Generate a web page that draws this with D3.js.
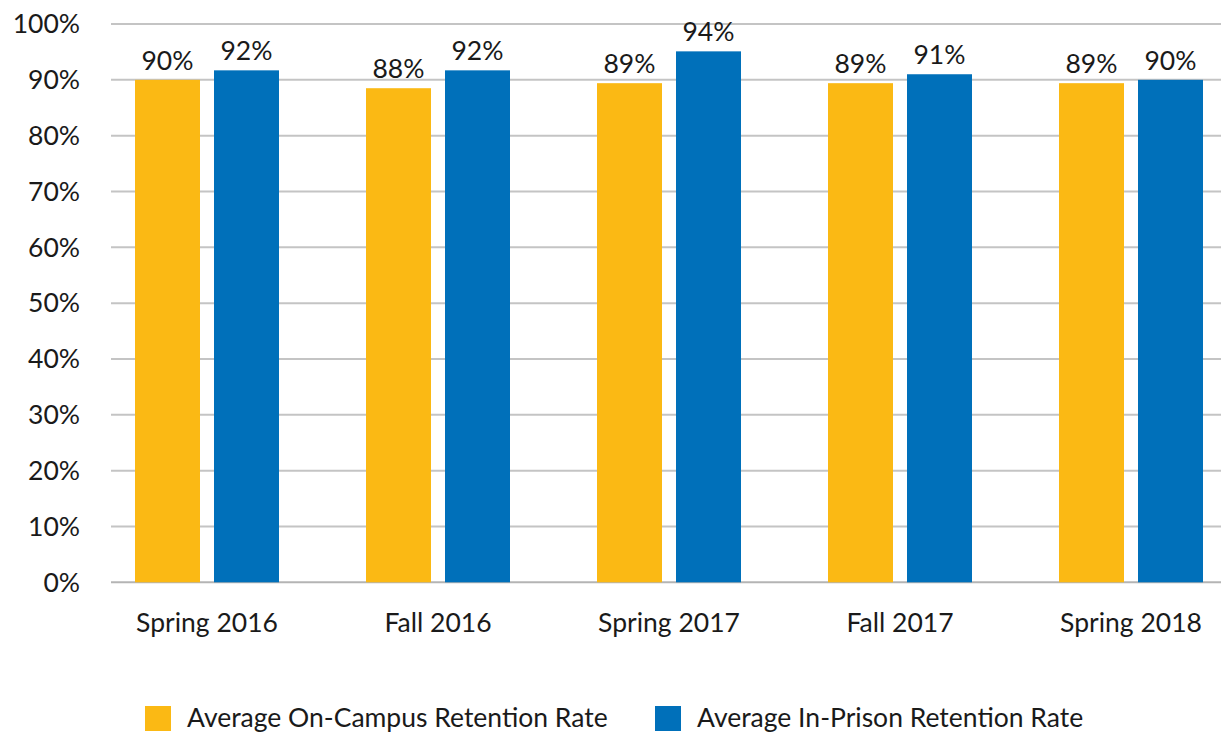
<!DOCTYPE html>
<html><head><meta charset="utf-8">
<script src="https://cdn.jsdelivr.net/npm/d3@7"></script>
<style>body{margin:0;background:#fff;} text{font-family:Lato,"Open Sans",sans-serif;fill:#1a1a1a;}</style>
</head><body>
<svg id="c" width="1221" height="736"></svg>
<script>
const categories = ["Spring 2016","Fall 2016","Spring 2017","Fall 2017","Spring 2018"];
const seriesNames = ["Average On-Campus Retention Rate","Average In-Prison Retention Rate"];
const onCampus = [0.90, 0.885, 0.894, 0.894, 0.894];
const inPrison = [0.917, 0.917, 0.951, 0.91, 0.90];
const onCampusLabels = ["90%","88%","89%","89%","89%"];
const inPrisonLabels = ["92%","92%","94%","91%","90%"];
const yTicks = [0,0.1,0.2,0.3,0.4,0.5,0.6,0.7,0.8,0.9,1.0];
const colors = ["#FBB914","#0070BA"];

const FS = 26.5;
const svg = d3.select("#c");
const y = d3.scaleLinear().domain([0,1]).range([582.3,24]);
const x = d3.scaleBand().domain(categories).range([91.5,1246.5]).paddingInner(0).paddingOuter(0);
const inner = d3.scaleBand().domain([0,1]).range([0,144]).paddingInner(14/79).paddingOuter(0);
const off = (x.bandwidth()-144)/2;

// gridlines
svg.append("g").selectAll("line").data(yTicks).join("line")
  .attr("x1",111).attr("x2",1221)
  .attr("y1",d=>y(d)).attr("y2",d=>y(d))
  .attr("stroke",d=>d===0?"#b4b4b4":"#c4c4c4").attr("stroke-width",2);

// y axis labels
svg.append("g").selectAll("text").data(yTicks).join("text")
  .attr("x",80).attr("y",d=>y(d)).attr("dy","0.35em")
  .attr("text-anchor","end").attr("font-size",FS)
  .text(d=>d3.format(".0%")(d));

const series = [
  {vals:onCampus, labels:onCampusLabels, color:colors[0]},
  {vals:inPrison, labels:inPrisonLabels, color:colors[1]}
];
series.forEach((s,si)=>{
  const g = svg.append("g");
  g.selectAll("rect").data(categories).join("rect")
    .attr("x",(c)=>x(c)+off+inner(si))
    .attr("width",inner.bandwidth())
    .attr("y",(c,i)=>y(s.vals[i]))
    .attr("height",(c,i)=>y(0)-y(s.vals[i]))
    .attr("fill",s.color);
  g.selectAll("text").data(categories).join("text")
    .attr("x",(c)=>x(c)+off+inner(si)+inner.bandwidth()/2)
    .attr("y",(c,i)=>y(s.vals[i])-10)
    .attr("text-anchor","middle").attr("font-size",FS)
    .text((c,i)=>s.labels[i]);
});

// x labels
svg.append("g").selectAll("text").data(categories).join("text")
  .attr("x",c=>x(c)+x.bandwidth()/2).attr("y",632)
  .attr("text-anchor","middle").attr("font-size",FS)
  .text(d=>d);

// legend
const legX = [145,655];
const lg = svg.append("g");
seriesNames.forEach((n,i)=>{
  lg.append("rect").attr("x",legX[i]).attr("y",706).attr("width",26).attr("height",25).attr("fill",colors[i]);
  lg.append("text").attr("x",legX[i]+42).attr("y",727).attr("font-size",FS).text(n);
});
</script>
</body></html>
